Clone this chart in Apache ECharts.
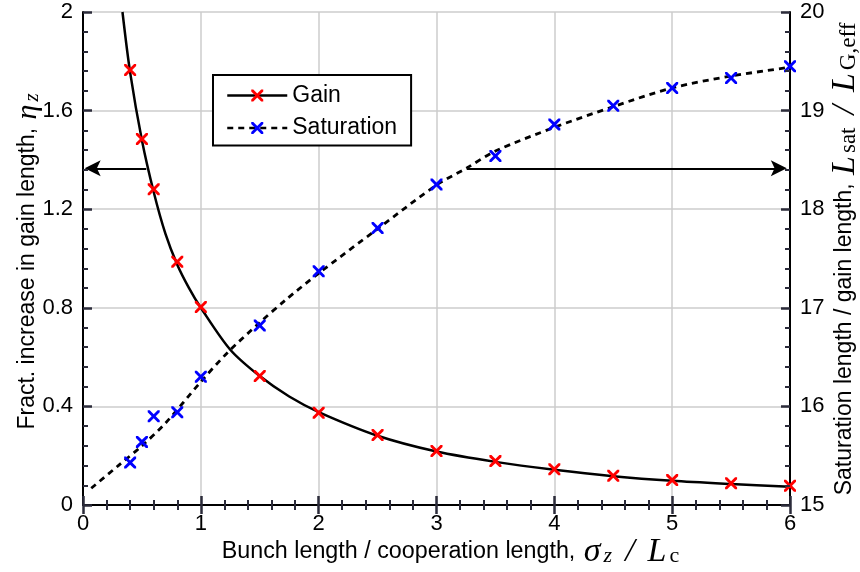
<!DOCTYPE html>
<html><head><meta charset="utf-8">
<script src="https://cdn.jsdelivr.net/npm/echarts@6/dist/echarts.min.js"></script>
<style>html,body{margin:0;padding:0;background:#fff}#c{width:860px;height:572px}</style>
</head><body><div id="c"></div>
<script>
// ---- data ----
const xTickLabels = ['0','1','2','3','4','5','6'];
const leftTickLabels = ['0','0.4','0.8','1.2','1.6','2'];
const rightTickLabels = ['15','16','17','18','19','20'];
const sampleX = [0.4,0.5,0.6,0.8,1.0,1.5,2.0,2.5,3.0,3.5,4.0,4.5,5.0,5.5,6.0];
const gainValues = [1.765,1.485,1.281,0.987,0.803,0.523,0.374,0.284,0.219,0.178,0.145,0.119,0.101,0.088,0.078];
const satValues = [15.43,15.64,15.90,15.94,16.30,16.82,17.37,17.81,18.25,18.54,18.86,19.05,19.23,19.33,19.45];
const gainCurveX = [0.335,0.4,0.5,0.6,0.7,0.8,0.9,1.0,1.25,1.5,1.75,2.0,2.5,3.0,3.5,4.0,4.5,5.0,5.5,6.0];
const gainCurveY = [2.0,1.755,1.48,1.27,1.1,0.975,0.88,0.80,0.63,0.523,0.44,0.377,0.281,0.217,0.175,0.143,0.117,0.098,0.085,0.074];
const satCurveX = [0.07,0.3,0.5,0.7,1.0,1.23,1.5,1.72,2.0,2.5,3.0,3.26,3.5,4.0,4.5,5.0,5.5,6.0];
const satCurveY = [15.17,15.40,15.60,15.83,16.25,16.55,16.85,17.08,17.35,17.80,18.245,18.42,18.59,18.83,19.04,19.23,19.35,19.44];
const leftArrow = [[0.537,1.366],[0.082,1.366]];
const rightArrow = [[3.257,18.415],[5.905,18.415]];

const zip = (a,b) => a.map((v,i)=>[v,b[i]]);
const X_SYMBOL = 'path://M0,0L1.7,0L5,3.3L8.3,0L10,0L10,1.7L6.7,5L10,8.3L10,10L8.3,10L5,6.7L1.7,10L0,10L0,8.3L3.3,5L0,1.7Z';
const ARROW = 'path://M7.5,0L15,17L7.5,13L0,17Z';
const SANS = 'Liberation Sans';
const SERIF = 'Liberation Serif';
const TICK_COLOR = '#2b2b3a';

function mathRich(textSize, mSize, subSize, mPad, slPad, startPad, endPad){
  const sub = (italic, pad) => ({fontFamily: SERIF, fontStyle: italic ? 'italic' : 'normal', fontSize: subSize, color:'#000', lineHeight: 16, verticalAlign:'bottom', padding: pad});
  return {
    t: {fontFamily: SANS, fontSize: textSize, color:'#000', lineHeight: 30, verticalAlign:'middle', padding:[0,0,0,startPad]},
    m: {fontFamily: SERIF, fontStyle:'italic', fontSize: mSize, color:'#000', lineHeight: 30, verticalAlign:'middle', padding:[0,mPad,0,mPad]},
    sl: {fontFamily: SERIF, fontStyle:'italic', fontSize: mSize, color:'#000', lineHeight: 30, verticalAlign:'middle', padding:[0,slPad,0,slPad]},
    ms: sub(true, [0,2,0,1]),
    s: sub(false, [0,2,0,1]),
    mse: sub(true, [0,endPad,0,1]),
    se: sub(false, [0,endPad,0,1])
  };
}
const richBottom = mathRich(23.3, 34, 22, 2, 11, 30, 2);
const richLeft = mathRich(23, 30, 21, 2, 6, 0, 6);
const richRight = mathRich(23, 34, 23, 2, 11, 0, 1);

const labelStyle = {color:'#000', fontFamily: SANS, fontSize: 22, margin: 10};
const gridLine = {show:true, lineStyle:{color:'#cccccc', width:1.5}};
const mainLine = {show:true, onZero:false, lineStyle:{color:'#000', width:2}};
const noTick = {axisTick:{show:false}, minorTick:{show:false}};
// tick-only axes (inward ticks on all four edges of the box)
function tickAxis(extra){
  return Object.assign({
    type:'value', z: 10, axisLine:{show:false, onZero:false}, axisLabel:{show:false}, splitLine:{show:false},
    axisTick:{show:true, inside:true, length:9, lineStyle:{color:TICK_COLOR, width:2.5}},
    minorTick:{show:true, splitNumber:5, length:5, lineStyle:{color:TICK_COLOR, width:2}}
  }, extra);
}

const chart = echarts.init(document.getElementById('c'), null, {renderer:'canvas'});
chart.setOption({
  animation: false,
  grid: {left: 83, right: 70, top: 12, bottom: 67, outerBoundsMode: 'none'},
  xAxis: [
    Object.assign({type:'value', min:0, max:6, interval:1, position:'bottom',
      axisLine: mainLine,
      axisLabel: Object.assign({}, labelStyle, {margin: 8, formatter:(v,i)=>xTickLabels[i]}),
      splitLine: gridLine,
      name: '{t|Bunch length / cooperation length, }{m|σ}{ms|z}{sl|/}{m|L}{se|c}',
      nameLocation:'middle', nameGap: 32, nameMoveOverlap: false,
      nameTextStyle: {rich: richBottom}}, noTick),
    tickAxis({min:0, max:6, interval:1, position:'top', axisLine: {show:true, lineStyle:{color:'#000', width:2}}}),
    tickAxis({min:0, max:6, interval:1, position:'bottom'})
  ],
  yAxis: [
    Object.assign({type:'value', min:0, max:2, interval:0.4, position:'left',
      axisLine: mainLine,
      axisLabel: Object.assign({}, labelStyle, {formatter:(v,i)=>leftTickLabels[i]}),
      splitLine: gridLine,
      name: '{t|Fract. increase in gain length, }{m|η}{mse|z}',
      nameLocation:'middle', nameGap: 40, nameRotate: 90, nameMoveOverlap: false,
      nameTextStyle: {rich: richLeft}}, noTick),
    Object.assign({type:'value', min:15, max:20, interval:1, position:'right',
      axisLine: mainLine,
      axisLabel: Object.assign({}, labelStyle, {formatter:(v,i)=>rightTickLabels[i]}),
      splitLine: {show:false},
      name: '{t|Saturation length / gain length, }{m|L}{s|sat}{sl|/}{m|L}{se|G,eff}',
      nameLocation:'middle', nameGap: 40, nameRotate: 90, nameMoveOverlap: false,
      nameTextStyle: {rich: richRight}}, noTick),
    tickAxis({min:0, max:2, interval:0.4, position:'left'}),
    tickAxis({min:15, max:20, interval:1, position:'right'})
  ],
  legend: {
    left: 213, top: 75, orient: 'vertical', selectedMode: false,
    itemWidth: 60, itemHeight: 15, itemGap: 9.5,
    padding: [9, 14, 6, 13],
    borderColor: '#000', borderWidth: 2, backgroundColor: '#fff', borderRadius: 0,
    textStyle: {fontFamily: SANS, fontSize: 23, color:'#000'},
    data: [
      {name:'Gain', lineStyle:{color:'#000', width:2.5, type:'solid', opacity:1}, itemStyle:{color:'#ff0000', opacity:1}},
      {name:'Saturation', lineStyle:{color:'#000', width:2.5, type:[6,5], opacity:1}, itemStyle:{color:'#0000ff', opacity:1}}
    ]
  },
  series: [
    {
      name:'Gain curve', type:'line', xAxisIndex:0, yAxisIndex:0,
      data: zip(gainCurveX, gainCurveY), showSymbol:false, smooth:0.3, z:3,
      lineStyle:{color:'#000', width:2.5}, itemStyle:{color:'#000'}, silent:true,
      markLine: {silent:true, symbol:['none', ARROW], symbolSize:16, animation:false,
        label:{show:false}, emphasis:{disabled:true},
        lineStyle:{color:'#000', width:2, type:'solid'}, itemStyle:{color:'#000'},
        data:[[{coord:leftArrow[0]},{coord:leftArrow[1]}]]}
    },
    {
      name:'Saturation curve', type:'line', xAxisIndex:0, yAxisIndex:1,
      data: zip(satCurveX, satCurveY), showSymbol:false, smooth:0.3, z:3,
      lineStyle:{color:'#000', width:2.8, type:[6,5]}, itemStyle:{color:'#000'}, silent:true,
      markLine: {silent:true, symbol:['none', ARROW], symbolSize:16, animation:false,
        label:{show:false}, emphasis:{disabled:true},
        lineStyle:{color:'#000', width:2, type:'solid'}, itemStyle:{color:'#000'},
        data:[[{coord:rightArrow[0]},{coord:rightArrow[1]}]]}
    },
    {
      name:'Gain', type:'line', xAxisIndex:0, yAxisIndex:0,
      data: zip(sampleX, gainValues), symbol: X_SYMBOL, symbolSize: 12, showSymbol:true, z:5,
      itemStyle:{color:'#ff0000'}, lineStyle:{color:'#000', opacity:0}, silent:true
    },
    {
      name:'Saturation', type:'line', xAxisIndex:0, yAxisIndex:1,
      data: zip(sampleX, satValues), symbol: X_SYMBOL, symbolSize: 12, showSymbol:true, z:5,
      itemStyle:{color:'#0000ff'}, lineStyle:{color:'#000', opacity:0}, silent:true
    }
  ]
});
</script></body></html>
